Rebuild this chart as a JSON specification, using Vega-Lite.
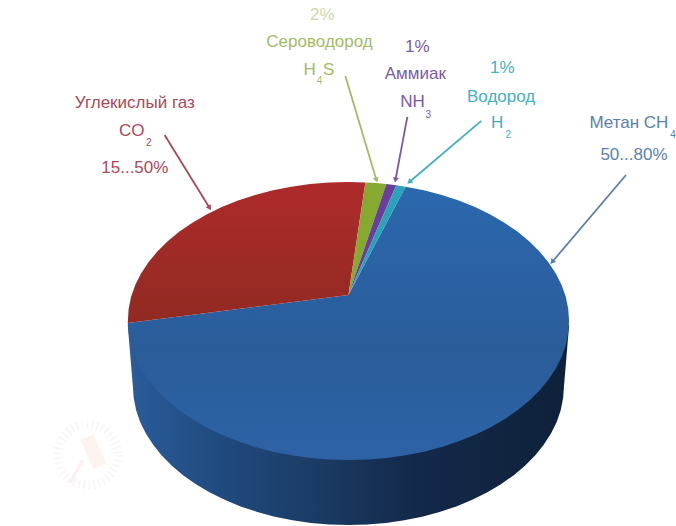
{
  "$schema": "https://vega.github.io/schema/vega-lite/v6.json",
  "width": 676,
  "height": 526,
  "autosize": {"type": "fit", "contains": "padding"},
  "padding": 0,
  "background": "#ffffff",
  "view": {"stroke": null},
  "config": {"text": {"font": "Liberation Sans"}},
  "datasets": {
    "wall": [
      {"i":0,"x":-1,"y":-0.03},{"i":1,"x":-0.977,"y":-0.468},{"i":2,"x":-0.973,"y":-0.555},{"i":3,"x":-0.962,"y":-0.642},{"i":4,"x":-0.944,"y":-0.727},{"i":5,"x":-0.918,"y":-0.81},{"i":6,"x":-0.885,"y":-0.891},{"i":7,"x":-0.846,"y":-0.968},{"i":8,"x":-0.8,"y":-1.042},{"i":9,"x":-0.748,"y":-1.111},{"i":10,"x":-0.691,"y":-1.175},{"i":11,"x":-0.628,"y":-1.234},{"i":12,"x":-0.561,"y":-1.287},{"i":13,"x":-0.489,"y":-1.334},{"i":14,"x":-0.413,"y":-1.374},{"i":15,"x":-0.334,"y":-1.408},{"i":16,"x":-0.253,"y":-1.434},{"i":17,"x":-0.17,"y":-1.453},{"i":18,"x":-0.085,"y":-1.464},{"i":19,"x":0,"y":-1.468},
      {"i":20,"x":0.085,"y":-1.464},{"i":21,"x":0.17,"y":-1.453},{"i":22,"x":0.253,"y":-1.434},{"i":23,"x":0.334,"y":-1.408},{"i":24,"x":0.413,"y":-1.374},{"i":25,"x":0.489,"y":-1.334},{"i":26,"x":0.561,"y":-1.287},{"i":27,"x":0.628,"y":-1.234},{"i":28,"x":0.691,"y":-1.175},{"i":29,"x":0.748,"y":-1.111},{"i":30,"x":0.8,"y":-1.042},{"i":31,"x":0.846,"y":-0.968},{"i":32,"x":0.885,"y":-0.891},{"i":33,"x":0.918,"y":-0.81},{"i":34,"x":0.944,"y":-0.727},{"i":35,"x":0.962,"y":-0.642},{"i":36,"x":0.973,"y":-0.555},{"i":37,"x":0.977,"y":-0.468},{"i":38,"x":1,"y":-0.03}
    ],
    "methane": [
      {"i":0,"x":0,"y":0.187},{"i":1,"x":0.259,"y":0.966},{"i":2,"x":0.342,"y":0.94},{"i":3,"x":0.423,"y":0.906},{"i":4,"x":0.5,"y":0.866},{"i":5,"x":0.574,"y":0.819},{"i":6,"x":0.643,"y":0.766},{"i":7,"x":0.707,"y":0.707},{"i":8,"x":0.766,"y":0.643},{"i":9,"x":0.819,"y":0.574},{"i":10,"x":0.866,"y":0.5},{"i":11,"x":0.906,"y":0.423},{"i":12,"x":0.94,"y":0.342},{"i":13,"x":0.966,"y":0.259},{"i":14,"x":0.985,"y":0.174},{"i":15,"x":0.996,"y":0.087},{"i":16,"x":1,"y":0},
      {"i":17,"x":0.996,"y":-0.087},{"i":18,"x":0.985,"y":-0.174},{"i":19,"x":0.966,"y":-0.259},{"i":20,"x":0.94,"y":-0.342},{"i":21,"x":0.906,"y":-0.423},{"i":22,"x":0.866,"y":-0.5},{"i":23,"x":0.819,"y":-0.574},{"i":24,"x":0.766,"y":-0.643},{"i":25,"x":0.707,"y":-0.707},{"i":26,"x":0.643,"y":-0.766},{"i":27,"x":0.574,"y":-0.819},{"i":28,"x":0.5,"y":-0.866},{"i":29,"x":0.423,"y":-0.906},{"i":30,"x":0.342,"y":-0.94},{"i":31,"x":0.259,"y":-0.966},{"i":32,"x":0.174,"y":-0.985},{"i":33,"x":0.087,"y":-0.996},{"i":34,"x":0,"y":-1},
      {"i":35,"x":-0.087,"y":-0.996},{"i":36,"x":-0.174,"y":-0.985},{"i":37,"x":-0.259,"y":-0.966},{"i":38,"x":-0.342,"y":-0.94},{"i":39,"x":-0.423,"y":-0.906},{"i":40,"x":-0.5,"y":-0.866},{"i":41,"x":-0.574,"y":-0.819},{"i":42,"x":-0.643,"y":-0.766},{"i":43,"x":-0.707,"y":-0.707},{"i":44,"x":-0.766,"y":-0.643},{"i":45,"x":-0.819,"y":-0.574},{"i":46,"x":-0.866,"y":-0.5},{"i":47,"x":-0.906,"y":-0.423},{"i":48,"x":-0.94,"y":-0.342},{"i":49,"x":-0.966,"y":-0.259},{"i":50,"x":-0.985,"y":-0.174},{"i":51,"x":-0.996,"y":-0.087},{"i":52,"x":-1,"y":-0.014}
    ],
    "carbonDioxide": [
      {"i":0,"x":0,"y":0.187},{"i":1,"x":-1,"y":-0.014},{"i":2,"x":-0.996,"y":0.087},{"i":3,"x":-0.985,"y":0.174},{"i":4,"x":-0.966,"y":0.259},{"i":5,"x":-0.94,"y":0.342},{"i":6,"x":-0.906,"y":0.423},{"i":7,"x":-0.866,"y":0.5},{"i":8,"x":-0.819,"y":0.574},{"i":9,"x":-0.766,"y":0.643},{"i":10,"x":-0.707,"y":0.707},{"i":11,"x":-0.643,"y":0.766},{"i":12,"x":-0.574,"y":0.819},{"i":13,"x":-0.5,"y":0.866},{"i":14,"x":-0.423,"y":0.906},{"i":15,"x":-0.342,"y":0.94},{"i":16,"x":-0.259,"y":0.966},{"i":17,"x":-0.174,"y":0.985},{"i":18,"x":-0.087,"y":0.996},{"i":19,"x":0,"y":1},{"i":20,"x":0.077,"y":0.997}
    ],
    "hydrogenSulfide": [
      {"i":0,"x":0,"y":0.187},{"i":1,"x":0.077,"y":0.997},{"i":2,"x":0.125,"y":0.992},{"i":3,"x":0.172,"y":0.985}
    ],
    "ammonia": [
      {"i":0,"x":0,"y":0.187},{"i":1,"x":0.172,"y":0.985},{"i":2,"x":0.217,"y":0.976}
    ],
    "hydrogen": [
      {"i":0,"x":0,"y":0.187},{"i":1,"x":0.217,"y":0.976},{"i":2,"x":0.259,"y":0.966}
    ],
    "leaders": [
      {"gas":"CO2","x":-0.833,"y":1.338,"x2":-0.629,"y2":0.813,"heading":148.4},
      {"gas":"H4S","x":-0.014,"y":1.763,"x2":0.127,"y2":1.014,"heading":163.4},
      {"gas":"NH3","x":0.267,"y":1.468,"x2":0.213,"y2":1.014,"heading":190.8},
      {"gas":"H2","x":0.602,"y":1.439,"x2":0.276,"y2":1.0,"heading":229.7},
      {"gas":"CH4","x":1.258,"y":1.05,"x2":0.923,"y2":0.424,"heading":220.4}
    ],
    "labels": [
      {"gas":"CO2","text":"Углекислый газ","x":-0.968,"y":1.568},
      {"gas":"CO2","text":"CO","x":-0.982,"y":1.367},
      {"gas":"CO2","text":"15...50%","x":-0.968,"y":1.101},
      {"gas":"H4S","text":"Сероводород","x":-0.131,"y":2.007},
      {"gas":"H4S","text":"H","x":-0.176,"y":1.806},
      {"gas":"H4S","text":"S","x":-0.09,"y":1.806},
      {"gas":"NH3","text":"1%","x":0.312,"y":1.971},
      {"gas":"NH3","text":"Аммиак","x":0.303,"y":1.777},
      {"gas":"NH3","text":"NH","x":0.29,"y":1.576},
      {"gas":"H2","text":"1%","x":0.697,"y":1.82},
      {"gas":"H2","text":"Водород","x":0.692,"y":1.612},
      {"gas":"H2","text":"H","x":0.674,"y":1.424},
      {"gas":"CH4","text":"Метан CH","x":1.271,"y":1.424},
      {"gas":"CH4","text":"50...80%","x":1.294,"y":1.194}
    ],
    "subscripts": [
      {"gas":"CO2","text":"2","x":-0.905,"y":1.281},
      {"gas":"H4S","text":"4","x":-0.131,"y":1.727},
      {"gas":"NH3","text":"3","x":0.362,"y":1.482},
      {"gas":"H2","text":"2","x":0.724,"y":1.338},
      {"gas":"CH4","text":"4","x":1.471,"y":1.338}
    ]
  },
  "encoding": {
    "x": {"field": "x", "type": "quantitative", "axis": null, "scale": {"domain": [-1.579, 1.48], "nice": false, "zero": false}},
    "y": {"field": "y", "type": "quantitative", "axis": null, "scale": {"domain": [-1.475, 2.309], "nice": false, "zero": false}}
  },
  "layer": [
    {
      "description": "Faint emblem in the lower left corner",
      "data": {"values": [{"x": -1.181, "y": -0.964}]},
      "mark": {"type": "point", "shape": "circle", "size": 3600, "filled": false, "stroke": "#f4f3f2", "strokeWidth": 9, "strokeDash": [1.5, 3.5]}
    },
    {
      "data": {"values": [{"x": -1.186, "y": -0.835, "x2": -1.127, "y2": -1.043}]},
      "mark": {"type": "rule", "stroke": "#fdf3ee", "strokeWidth": 14},
      "encoding": {"x2": {"field": "x2"}, "y2": {"field": "y2"}}
    },
    {
      "data": {"values": [{"x": -1.262, "y": -1.165, "x2": -1.204, "y2": -1.0}]},
      "mark": {"type": "rule", "stroke": "#fcf0f0", "strokeWidth": 3},
      "encoding": {"x2": {"field": "x2"}, "y2": {"field": "y2"}}
    },
    {
      "description": "Side wall of the disc",
      "data": {"name": "wall"},
      "mark": {"type": "line", "stroke": null, "fill": {"gradient": "linear", "x1": 0, "y1": 0, "x2": 1, "y2": 0, "stops": [{"offset": 0, "color": "#2a5c9b"}, {"offset": 0.2, "color": "#204b80"}, {"offset": 0.45, "color": "#1a3a62"}, {"offset": 0.65, "color": "#13294a"}, {"offset": 1, "color": "#0f2139"}]}},
      "encoding": {"order": {"field": "i", "type": "quantitative"}}
    },
    {
      "description": "Top face: methane",
      "data": {"name": "methane"},
      "mark": {"type": "line", "stroke": null, "fill": {"gradient": "linear", "x1": 0, "y1": 0, "x2": 0, "y2": 1, "stops": [{"offset": 0, "color": "#2b68ae"}, {"offset": 0.6, "color": "#2b5c9a"}, {"offset": 1, "color": "#2d63a6"}]}},
      "encoding": {"order": {"field": "i", "type": "quantitative"}}
    },
    {
      "description": "Top face: carbon dioxide",
      "data": {"name": "carbonDioxide"},
      "mark": {"type": "line", "stroke": null, "fill": {"gradient": "linear", "x1": 0, "y1": 0, "x2": 0, "y2": 1, "stops": [{"offset": 0, "color": "#ae2a2b"}, {"offset": 1, "color": "#912a22"}]}},
      "encoding": {"order": {"field": "i", "type": "quantitative"}}
    },
    {
      "data": {"name": "hydrogenSulfide"},
      "mark": {"type": "line", "stroke": null, "fill": "#86a92f"},
      "encoding": {"order": {"field": "i", "type": "quantitative"}}
    },
    {
      "data": {"name": "ammonia"},
      "mark": {"type": "line", "stroke": null, "fill": "#6a3f9c"},
      "encoding": {"order": {"field": "i", "type": "quantitative"}}
    },
    {
      "data": {"name": "hydrogen"},
      "mark": {"type": "line", "stroke": null, "fill": "#2aa2b9"},
      "encoding": {"order": {"field": "i", "type": "quantitative"}}
    },
    {
      "description": "Leader lines from each label to its slice",
      "data": {"name": "leaders"},
      "mark": {"type": "rule", "strokeWidth": 1.8},
      "encoding": {
        "x2": {"field": "x2"},
        "y2": {"field": "y2"},
        "color": {"field": "gas", "type": "nominal", "legend": null, "scale": {"domain": ["CO2", "H4S", "NH3", "H2", "CH4"], "range": ["#a8485a", "#a4bb66", "#7a5aa8", "#3fb0c4", "#5a80b0"]}}
      }
    },
    {
      "data": {"name": "leaders"},
      "mark": {"type": "point", "shape": "triangle-up", "filled": true, "size": 36, "opacity": 1},
      "encoding": {
        "x": {"field": "x2", "type": "quantitative"},
        "y": {"field": "y2", "type": "quantitative"},
        "angle": {"field": "heading", "type": "quantitative", "scale": null},
        "color": {"field": "gas", "type": "nominal", "legend": null}
      }
    },
    {
      "description": "The uppermost figure fades out against the top edge",
      "data": {"values": [{"text": "2%", "x": -0.118, "y": 2.2}]},
      "mark": {"type": "text", "fontSize": 17, "align": "center", "baseline": "middle", "fill": "#cfd9ad"},
      "encoding": {"text": {"field": "text"}}
    },
    {
      "data": {"name": "labels"},
      "mark": {"type": "text", "fontSize": 17, "align": "center", "baseline": "middle"},
      "encoding": {
        "text": {"field": "text"},
        "color": {"field": "gas", "type": "nominal", "legend": null}
      }
    },
    {
      "data": {"name": "subscripts"},
      "mark": {"type": "text", "fontSize": 10, "align": "center", "baseline": "middle"},
      "encoding": {
        "text": {"field": "text"},
        "color": {"field": "gas", "type": "nominal", "legend": null}
      }
    }
  ]
}
